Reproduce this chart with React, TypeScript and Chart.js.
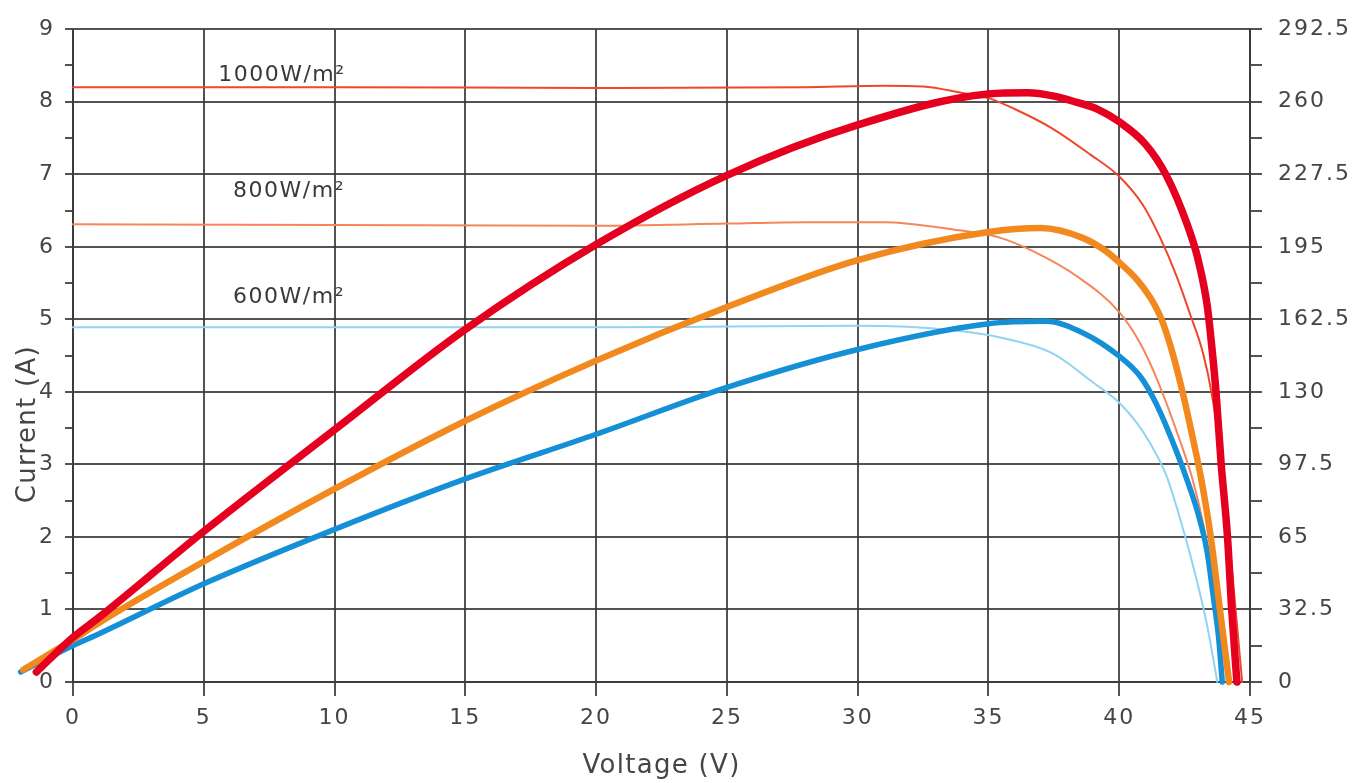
import React, { useEffect, useRef } from "react";
import { Chart, registerables } from "chart.js";

Chart.register(...registerables);

// ---- Data ----
// Power curves (right axis, W) vs voltage (V)
const power1000V = [-1.4, 0, 1.0, 5, 10, 15, 20, 25, 30, 35, 36.5, 37.5, 38.3, 39.2, 40, 41, 41.8, 42.6, 43.0, 43.36, 43.55, 43.7, 43.9, 44.14, 44.3, 44.5];
const power1000W = [4.5, 20, 29, 67.5, 113, 158, 196, 227, 249.6, 263.5, 264, 262.5, 260, 256.5, 251, 241, 227, 205, 190, 169, 149, 130, 97.5, 65, 32.5, 0];

const power800V = [-1.9, 0, 1.0, 5, 10, 15, 20, 25, 30, 35, 37, 38.6, 39.5, 40, 40.7, 41.2, 41.6, 41.95, 42.4, 42.8, 43.15, 43.5, 43.85, 44.2];
const power800W = [5.5, 19, 26.6, 54, 86.5, 117, 144, 168, 189, 201.6, 203.4, 199, 193, 188, 180, 172, 163, 151, 131, 110, 90, 65, 32.5, 0];

const power600V = [-2.0, 0, 1.0, 5, 10, 15, 20, 25, 30, 35, 37.2, 38.6, 40, 40.8, 41.4, 42.2, 42.7, 43.0, 43.36, 43.6, 43.8, 43.94];
const power600W = [4.5, 16.3, 21.6, 44, 68.4, 91, 111, 132, 149, 160.5, 161.6, 156.5, 146, 137, 125, 103, 87, 76, 58.5, 38, 20, 0];

// Current curves (left axis, A) vs voltage (V)
const current1000V = [0, 10, 20, 28, 31, 32.5, 34, 35, 36, 37.4, 38.9, 40, 40.9, 41.56, 42.2, 42.7, 43.2, 43.55, 43.85, 44.1, 44.35, 44.55, 44.7];
const current1000A = [8.2, 8.2, 8.19, 8.2, 8.22, 8.21, 8.12, 8.05, 7.9, 7.64, 7.27, 6.97, 6.58, 6.13, 5.59, 5.08, 4.54, 3.95, 3.2, 2.35, 1.4, 0.6, 0];

const current800V = [0, 10, 20, 25, 28, 31, 33.65, 35.4, 36.7, 38.4, 40, 40.8, 41.45, 42.3, 42.8, 43.2, 43.55, 43.85, 44.2];
const current800A = [6.31, 6.3, 6.29, 6.32, 6.34, 6.34, 6.24, 6.13, 5.94, 5.59, 5.1, 4.67, 4.17, 3.35, 2.8, 2.2, 1.5, 0.85, 0];

const current600V = [0, 10, 20, 25, 30, 33.65, 35.45, 37.4, 39, 40, 40.7, 41.2, 41.8, 42.45, 43.0, 43.36, 43.75];
const current600A = [4.89, 4.89, 4.89, 4.9, 4.91, 4.85, 4.75, 4.54, 4.13, 3.85, 3.56, 3.28, 2.85, 2.1, 1.35, 0.78, 0];

const irradianceLabels = ["1000W/m²", "800W/m²", "600W/m²"];
const xTitle = "Voltage (V)";
const yTitle = "Current (A)";
const xMin = 0, xMax = 45, xStep = 5;
const yMin = 0, yMax = 9, yStep = 0.5;
const y1Min = 0, y1Max = 292.5, y1Step = 16.25, y1LabelStep = 32.5;

function pts(xs: number[], ys: number[]) {
  return xs.map((x, i) => ({ x, y: ys[i] }));
}

const GRID = "rgba(58,58,58,0.88)";
const TICK_FONT = { family: "'DejaVu Sans', sans-serif", size: 22 };
const TEXT_COLOR = "#454545";

// label anchors in data coordinates (voltage, current)
const labelAnchors = [
  { v: 5.55, a: 8.29 },
  { v: 6.12, a: 6.68 },
  { v: 6.12, a: 5.22 },
];

const textPlugin = {
  id: "pvTexts",
  beforeDraw(chart: any) {
    (chart.ctx as any).letterSpacing = "2px";
  },
  afterDraw(chart: any) {
    const { ctx, chartArea } = chart;
    const x = chart.scales.x;
    const y = chart.scales.y;
    ctx.save();
    ctx.fillStyle = "#3a3a3a";
    (ctx as any).letterSpacing = "1.5px";
    ctx.font = "22px 'DejaVu Sans', sans-serif";
    ctx.textAlign = "left";
    ctx.textBaseline = "alphabetic";
    labelAnchors.forEach((p, i) => {
      ctx.fillText(irradianceLabels[i], x.getPixelForValue(p.v), y.getPixelForValue(p.a));
    });
    (ctx as any).letterSpacing = "1.3px";
    ctx.font = "26px 'DejaVu Sans', sans-serif";
    ctx.fillStyle = TEXT_COLOR;
    ctx.textAlign = "center";
    ctx.textBaseline = "middle";
    ctx.fillText(xTitle, (chartArea.left + chartArea.right) / 2, 766);
    ctx.translate(28, chartArea.top + (chartArea.bottom - chartArea.top) * 0.605);
    ctx.rotate(-Math.PI / 2);
    ctx.fillText(yTitle, 0, 0);
    ctx.restore();
  },
};

export default function App() {
  const ref = useRef<HTMLCanvasElement | null>(null);

  useEffect(() => {
    if (!ref.current) return;
    const common = {
      pointRadius: 0,
      pointHoverRadius: 0,
      fill: false,
      clip: false as any,
      cubicInterpolationMode: "monotone" as const,
      borderCapStyle: "round" as const,
      borderJoinStyle: "round" as const,
    };
    const chart = new Chart(ref.current, {
      type: "line",
      data: {
        datasets: [
          { ...common, label: "P 1000", data: pts(power1000V, power1000W), yAxisID: "y1", borderColor: "#e6001f", borderWidth: 7.5 },
          { ...common, label: "P 800", data: pts(power800V, power800W), yAxisID: "y1", borderColor: "#f2891f", borderWidth: 6.5 },
          { ...common, label: "P 600", data: pts(power600V, power600W), yAxisID: "y1", borderColor: "#1590d6", borderWidth: 5.5 },
          { ...common, label: "I 1000", data: pts(current1000V, current1000A), yAxisID: "y", borderColor: "#f0462c", borderWidth: 2 },
          { ...common, label: "I 800", data: pts(current800V, current800A), yAxisID: "y", borderColor: "#f7855a", borderWidth: 2 },
          { ...common, label: "I 600", data: pts(current600V, current600A), yAxisID: "y", borderColor: "#92d2f4", borderWidth: 2 },
        ],
      },
      options: {
        animation: false,
        responsive: true,
        maintainAspectRatio: false,
        events: [],
        layout: { autoPadding: false, padding: { top: 23, left: 0, right: 0, bottom: 0 } },
        plugins: { legend: { display: false }, tooltip: { enabled: false } },
        scales: {
          x: {
            type: "linear",
            min: xMin,
            max: xMax,
            afterFit: (s: any) => { s.height = 101; },
            ticks: { stepSize: xStep, font: TICK_FONT, color: TEXT_COLOR, padding: 9, maxRotation: 0, autoSkip: false },
            grid: { color: GRID, lineWidth: 2, tickLength: 14, tickColor: GRID },
            border: { display: true, color: GRID, width: 2 },
          },
          y: {
            type: "linear",
            position: "left",
            min: yMin,
            max: yMax,
            afterFit: (s: any) => { s.width = 73; },
            ticks: {
              stepSize: yStep,
              font: TICK_FONT,
              color: TEXT_COLOR,
              padding: 10,
              autoSkip: false,
              callback: (v: any) => (Math.abs(v - Math.round(v)) < 1e-6 ? String(Math.round(v)) : ""),
            },
            grid: {
              color: (c: any) => (Math.abs(c.tick.value - Math.round(c.tick.value)) < 1e-6 ? GRID : "rgba(0,0,0,0)"),
              tickColor: GRID,
              lineWidth: 2,
              tickLength: 8,
            },
            border: { display: true, color: GRID, width: 2 },
          },
          y1: {
            type: "linear",
            position: "right",
            min: y1Min,
            max: y1Max,
            afterFit: (s: any) => { s.width = 105; },
            ticks: {
              stepSize: y1Step,
              font: TICK_FONT,
              color: TEXT_COLOR,
              padding: 16,
              autoSkip: false,
              callback: (v: any) => {
                const k = v / y1LabelStep;
                return Math.abs(k - Math.round(k)) < 1e-6 ? String(Math.round(k * y1LabelStep * 10) / 10) : "";
              },
            },
            grid: { drawOnChartArea: false, color: GRID, tickColor: GRID, lineWidth: 2, tickLength: 12 },
            border: { display: true, color: GRID, width: 2 },
          },
        },
      },
      plugins: [textPlugin],
    });
    return () => chart.destroy();
  }, []);

  return (
    <div style={{ position: "absolute", left: 0, top: 0, width: 1355, height: 783, background: "#fff" }}>
      <canvas ref={ref} />
    </div>
  );
}
